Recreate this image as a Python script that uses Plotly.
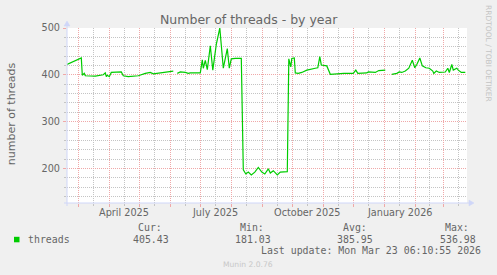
import plotly.graph_objects as go
import pandas as pd

# ---------------- data ----------------
dates = [
    "2025-02-17 18:00", "2025-02-20", "2025-02-23", "2025-02-27", "2025-03-04",
    "2025-03-05", "2025-03-07", "2025-03-08", "2025-03-11", "2025-03-18",
    "2025-03-26", "2025-03-28", "2025-03-29", "2025-03-30", "2025-04-01",
    "2025-04-03", "2025-04-13", "2025-04-15", "2025-04-20", "2025-04-30",
    "2025-05-07", "2025-05-12", "2025-05-15", "2025-05-22", "2025-05-29",
    "2025-06-04", "2025-06-06", "2025-06-08", "2025-06-11", "2025-06-16",
    "2025-06-19", "2025-06-21", "2025-07-01", "2025-07-03", "2025-07-04",
    "2025-07-06", "2025-07-08", "2025-07-11", "2025-07-13 12:00", "2025-07-17",
    "2025-07-20 12:00", "2025-07-24", "2025-07-28", "2025-07-30", "2025-08-01",
    "2025-08-05", "2025-08-11", "2025-08-13", "2025-08-15 12:00", "2025-08-18",
    "2025-08-21", "2025-08-24 12:00", "2025-08-28", "2025-08-31 12:00", "2025-09-03 12:00",
    "2025-09-07", "2025-09-09", "2025-09-12", "2025-09-16", "2025-09-19",
    "2025-09-26", "2025-09-27 12:00", "2025-09-29 12:00", "2025-09-30 12:00", "2025-10-03",
    "2025-10-04", "2025-10-07", "2025-10-10 12:00", "2025-10-15 12:00", "2025-10-24",
    "2025-10-26 12:00", "2025-10-28 12:00", "2025-10-30", "2025-11-04 12:00", "2025-11-08",
    "2025-11-21 12:00", "2025-12-01", "2025-12-03 12:00", "2025-12-05 12:00", "2025-12-14 12:00",
    "2025-12-16", "2025-12-23", "2025-12-26 12:00", "2026-01-02", "2026-01-05",
    "2026-01-08 12:00", "2026-01-13 12:00", "2026-01-16", "2026-01-18 12:00", "2026-01-22",
    "2026-01-25 12:00", "2026-01-29", "2026-01-31 12:00", "2026-02-02 12:00", "2026-02-05 12:00",
    "2026-02-08", "2026-02-11 12:00", "2026-02-15", "2026-02-18 12:00", "2026-02-19 12:00",
    "2026-02-22", "2026-02-25", "2026-03-03", "2026-03-05 12:00", "2026-03-07",
    "2026-03-09 12:00", "2026-03-11", "2026-03-14 12:00", "2026-03-16", "2026-03-19",
    "2026-03-23",
]
threads = [
    422, 424, 427, 430, 436,
    399, 403, 398, 398, 397,
    400, 404, 396, 399, 396,
    405, 406, 398, 396, 398,
    403, 405, 402, 404, 406,
    408, None, 403, 406, 405,
    403, 404, 404, 432, 414,
    431, 411, 462, 410, 465,
    500, 414, 456, 414, 434,
    435, 435, 197, 188, 192,
    186, 192, 202, 192, 188,
    199, 190, 195, 186, 192,
    193, 434, 417, 435, 436,
    404, 403, 405, 410, 414,
    415, 439, 421, 419, 401,
    403, 403, 410, 403, 404,
    406, 405, 409, 410, None,
    401, 403, 406, 405, 408,
    414, 431, 415, 422, 436,
    419, 415, 414, 408, 403,
    408, 405, 406, 414, 405,
    422, 410, 414, 410, 405,
    405,
]

x_start = "2025-02-17 16:48"
x_end = "2026-03-24 16:48"
y_min, y_max = 126, 500

month_starts = list(pd.date_range("2025-03-01", "2026-03-01", freq="MS"))
mid_months = [m + (n - m) / 2 for m, n in zip(month_starts, month_starts[1:] + [pd.Timestamp("2026-04-01")])]
label_dates = ["2025-04-16", "2025-07-16", "2025-10-16", "2026-01-16"]
label_text = ["April 2025", "July 2025", "October 2025", "January 2026"]

y_major = [200, 300, 400, 500]
y_minor = [v for v in range(140, 500, 20) if v % 100 != 0]

series_name = "threads"
legend_labels = ["Cur:", "Min:", "Avg:", "Max:"]
legend_values = ["405.43", "181.03", "385.95", "536.98"]
last_update = "Last update: Mon Mar 23 06:10:55 2026"

# ---------------- style ----------------
W, H = 497, 275
ML, MR, MT, MB = 67, 30, 28, 72
PW, PH = W - ML - MR, H - MT - MB
GREEN = "#00CC00"
MGRID = "#f0a8a8"
GRID = "#c4c4c4"
AXIS = "#CFD6F8"
FONT = "#666666"
SANS = "DejaVu Sans"
MONO = "DejaVu Sans Mono"


def px(xp):
    return (xp - ML) / PW


def py(yp):
    return (MT + PH - yp) / PH


fig = go.Figure()
fig.add_trace(go.Scatter(
    x=dates, y=threads, mode="lines", connectgaps=False,
    line=dict(color=GREEN, width=1.2), hoverinfo="skip", showlegend=False,
))

fig.update_layout(
    width=W, height=H,
    margin=dict(l=ML, r=MR, t=MT, b=MB, pad=0),
    paper_bgcolor="#F0F0F0", plot_bgcolor="#FFFFFF",
    showlegend=False,
    xaxis=dict(
        type="date", range=[x_start, x_end], fixedrange=True,
        tickmode="array", tickvals=month_starts, showticklabels=False,
        ticks="outside", ticklen=3, tickcolor=MGRID, tickwidth=1,
        showgrid=True, gridcolor=MGRID, griddash="1px,1px", gridwidth=1,
        zeroline=False, showline=False,
        minor=dict(tickmode="array", tickvals=mid_months, showgrid=True,
                   gridcolor=GRID, griddash="1px,1px", gridwidth=1,
                   ticks="outside", ticklen=2, tickcolor=GRID),
    ),
    yaxis=dict(
        range=[y_min, y_max], fixedrange=True,
        tickmode="array", tickvals=y_major,
        tickfont=dict(family=SANS, size=9.7, color=FONT),
        ticks="outside", ticklen=3, tickcolor=MGRID, ticklabelstandoff=1,
        showgrid=True, gridcolor=MGRID, griddash="1px,1px", gridwidth=1,
        zeroline=False, showline=False,
        minor=dict(tickmode="array", tickvals=y_minor, showgrid=True,
                   gridcolor=GRID, griddash="1px,1px", gridwidth=1,
                   ticks="outside", ticklen=2, tickcolor=GRID),
    ),
)

shapes = [
    # y axis line
    dict(type="line", xref="paper", yref="paper", xsizemode="pixel", ysizemode="pixel",
         xanchor=0, yanchor=0, x0=0, x1=0, y0=-3, y1=PH + 2,
         line=dict(color=AXIS, width=1)),
    # x axis line
    dict(type="line", xref="paper", yref="paper", xsizemode="pixel", ysizemode="pixel",
         xanchor=0, yanchor=0, x0=-3, x1=PW + 2, y0=0, y1=0,
         line=dict(color=AXIS, width=1)),
    # arrows
    dict(type="path", xref="paper", yref="paper", xsizemode="pixel", ysizemode="pixel",
         xanchor=0, yanchor=1, path="M -3,2 L 3,2 L 0,7 Z",
         fillcolor=AXIS, line=dict(color=AXIS, width=0.5)),
    dict(type="path", xref="paper", yref="paper", xsizemode="pixel", ysizemode="pixel",
         xanchor=1, yanchor=0, path="M 2,-3 L 2,3 L 7,0 Z",
         fillcolor=AXIS, line=dict(color=AXIS, width=0.5)),
    # legend swatch
    dict(type="rect", xref="paper", yref="paper",
         x0=px(14), x1=px(19.5), y0=py(242.3), y1=py(236.8),
         fillcolor=GREEN, line=dict(width=0)),
]
fig.update_layout(shapes=shapes)

ann = []
ann.append(dict(text="Number of threads - by year", xref="paper", yref="paper",
                x=px(249.3), y=py(19.8), xanchor="center", yanchor="middle", showarrow=False,
                font=dict(family=SANS, size=12.5, color=FONT)))
ann.append(dict(text="number of threads", xref="paper", yref="paper",
                x=px(11.2), y=py(114), xanchor="center", yanchor="middle", showarrow=False,
                textangle=-90, font=dict(family=SANS, size=11, color=FONT)))
ann.append(dict(text="RRDTOOL / TOBI OETIKER", xref="paper", yref="paper",
                x=px(488.5), y=py(53.5), xanchor="center", yanchor="middle", showarrow=False,
                textangle=90, font=dict(family=SANS, size=7.5, color="#c4c4c4")))
for d, t in zip(label_dates, label_text):
    ann.append(dict(text=t, xref="x", yref="paper", x=d, y=py(212.3),
                    xanchor="center", yanchor="middle", showarrow=False,
                    font=dict(family=SANS, size=9.7, color=FONT)))

ann.append(dict(text=series_name, xref="paper", yref="paper", x=px(25.7), y=py(239),
                xanchor="left", yanchor="middle", showarrow=False,
                font=dict(family=MONO, size=9.9, color=FONT)))
label_right = [164.3, 266, 369.3, 471]
value_right = [171, 272.7, 375.3, 477.7]
for lab, val, lr, vr in zip(legend_labels, legend_values, label_right, value_right):
    ann.append(dict(text=lab, xref="paper", yref="paper", x=px(lr), y=py(227.6),
                    xanchor="right", yanchor="middle", showarrow=False,
                    font=dict(family=MONO, size=9.9, color=FONT)))
    ann.append(dict(text=val, xref="paper", yref="paper", x=px(vr), y=py(239),
                    xanchor="right", yanchor="middle", showarrow=False,
                    font=dict(family=MONO, size=9.9, color=FONT)))
ann.append(dict(text=last_update, xref="paper", yref="paper", x=px(483.3), y=py(250.8),
                xanchor="right", yanchor="middle", showarrow=False,
                font=dict(family=MONO, size=9.9, color=FONT)))
ann.append(dict(text="Munin 2.0.76", xref="paper", yref="paper", x=px(247.8), y=py(264.5),
                xanchor="center", yanchor="middle", showarrow=False,
                font=dict(family=SANS, size=7.6, color="#c8c8c8")))
fig.update_layout(annotations=ann)

fig.write_html("out.html", config={"displayModeBar": False, "staticPlot": True})
